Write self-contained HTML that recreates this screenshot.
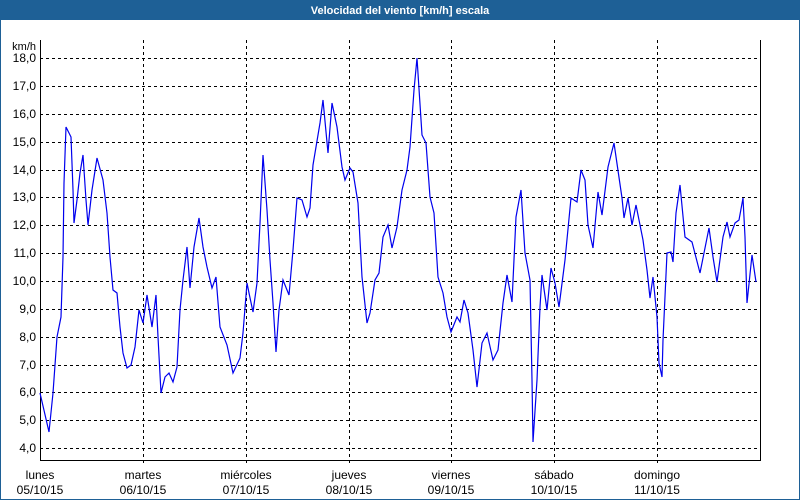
<!DOCTYPE html>
<html><head><meta charset="utf-8"><style>
body{margin:0;width:800px;height:500px;overflow:hidden;background:#fff;font-family:"Liberation Sans","DejaVu Sans",sans-serif;}
</style></head><body>
<svg width="800" height="500" xmlns="http://www.w3.org/2000/svg" style="display:block">
<rect x="0" y="0" width="800" height="500" fill="#fff"/>
<rect x="0.5" y="0.5" width="799" height="499" fill="none" stroke="#1e6096" stroke-width="1"/>
<rect x="0" y="0" width="800" height="20" fill="#1e6096"/>
<text x="400" y="14" fill="#fff" font-size="11" font-weight="bold" text-anchor="middle">Velocidad del viento [km/h] escala</text>
<g stroke="#000" stroke-width="1" stroke-dasharray="3,3" fill="none">
<path d="M40 58.5H760M40 86.5H760M40 114.5H760M40 142.5H760M40 170.5H760M40 197.5H760M40 225.5H760M40 253.5H760M40 281.5H760M40 309.5H760M40 337.5H760M40 365.5H760M40 392.5H760M40 420.5H760M40 448.5H760"/>
<path d="M143.5 40V466M246.5 40V466M349.5 40V466M451.5 40V466M554.5 40V466M657.5 40V466"/>
</g>
<path d="M40.5 40V460.5H760.5V40" stroke="#000" stroke-width="1" fill="none"/>
<g font-size="12" fill="#000" text-anchor="end">
<text x="36" y="50" font-size="11">km/h</text>
<text x="36" y="62">18,0</text><text x="36" y="90">17,0</text><text x="36" y="118">16,0</text><text x="36" y="146">15,0</text><text x="36" y="174">14,0</text><text x="36" y="201">13,0</text><text x="36" y="229">12,0</text><text x="36" y="257">11,0</text><text x="36" y="285">10,0</text><text x="36" y="313">9,0</text><text x="36" y="341">8,0</text><text x="36" y="369">7,0</text><text x="36" y="396">6,0</text><text x="36" y="424">5,0</text><text x="36" y="452">4,0</text>
</g>
<g font-size="12" fill="#000" text-anchor="middle">
<text x="40" y="479">lunes</text><text x="40" y="494">05/10/15</text>
<text x="143" y="479">martes</text><text x="143" y="494">06/10/15</text>
<text x="246" y="479">miércoles</text><text x="246" y="494">07/10/15</text>
<text x="349" y="479">jueves</text><text x="349" y="494">08/10/15</text>
<text x="451" y="479">viernes</text><text x="451" y="494">09/10/15</text>
<text x="554" y="479">sábado</text><text x="554" y="494">10/10/15</text>
<text x="657" y="479">domingo</text><text x="657" y="494">11/10/15</text>
</g>
<polyline fill="none" stroke="#0000ee" stroke-width="1.2" points="40,393 49,432 53,393 57,337 61,317 63,257 64,183 66,127 71,137 73,190 74,223 77,200 80,173 83,155 86,200 88,225 92,190 97,158 103,180 107,213 110,257 113,290 117,293 120,327 123,353 127,368 131,365 135,347 139,310 143,323 147,295 152,327 156,295 158,337 161,393 165,377 169,373 173,382 177,367 180,310 183,280 187,247 190,288 194,247 199,218 203,247 207,267 212,288 216,277 220,327 227,345 233,373 240,358 243,333 247,283 249,293 253,312 257,283 260,223 263,155 267,210 270,260 273,303 276,352 279,310 283,280 289,295 293,250 297,198 302,200 307,217 310,208 313,165 320,123 323,100 328,153 332,103 337,127 342,167 345,180 350,168 353,172 358,203 362,277 367,323 370,313 375,280 379,273 383,237 388,225 392,248 397,227 402,190 407,170 410,147 414,90 417,58 422,135 426,143 430,197 434,213 438,277 443,293 447,317 451,332 457,317 460,322 464,300 468,313 473,350 477,387 482,343 487,333 493,360 498,350 503,303 507,275 512,302 516,217 521,190 525,253 530,280 532,380 533,442 537,380 540,307 542,275 547,310 551,268 555,283 559,307 565,260 571,198 577,202 581,170 585,180 588,225 593,248 598,192 602,215 608,167 614,143 622,198 624,218 628,198 632,225 636,205 643,240 647,270 650,298 653,277 657,317 659,363 662,377 663,340 667,253 671,252 673,262 676,213 680,185 685,237 692,242 700,273 709,228 713,257 717,282 723,237 727,222 730,237 735,223 739,220 743,198 745,237 747,303 752,255 756,282"/>
</svg>
</body></html>
